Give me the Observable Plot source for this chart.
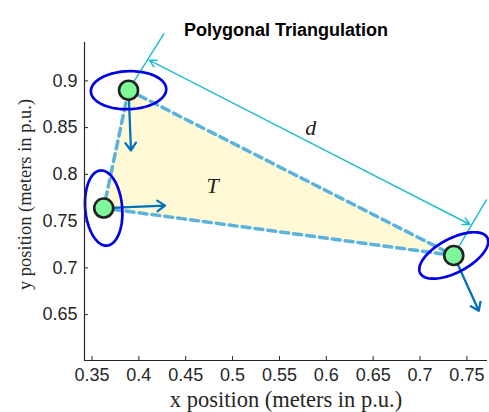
<!DOCTYPE html>
<html>
<head>
<meta charset="utf-8">
<script src="https://cdn.jsdelivr.net/npm/d3@7"></script>
<script src="https://cdn.jsdelivr.net/npm/@observablehq/plot@0.6"></script>
<style>
  html, body { margin: 0; padding: 0; background: #fff; }
</style>
</head>
<body>
<div id="chart"></div>
<script>
// Node positions (meters in p.u.)
const nodeX = [0.389, 0.3625, 0.736];
const nodeY = [0.890, 0.764, 0.7133];

// Motion vectors at each node
const flowU = [0.0026, 0.0654, 0.0267];
const flowV = [-0.0644, 0.0026, -0.0592];

// Uncertainty ellipses: semi-axes and orientation (degrees)
const ellA = [0.0402, 0.0403, 0.0405];
const ellB = [0.0203, 0.0197, 0.0181];
const ellAngle = [2, 95, 28];

// Dimension line for the distance d, with its two extension lines
const extX1 = [0.389, 0.736];
const extY1 = [0.890, 0.7133];
const extX2 = [0.4271, 0.7711];
const extY2 = [0.951, 0.7734];
const dimStart = [0.4111, 0.9221];
const dimEnd = [0.7533, 0.7464];

// Annotations
const labelText = ["d", "T"];
const labelX = [0.5835, 0.4787];
const labelY = [0.850, 0.788];

// Axis ticks
const xTicks = [0.35, 0.4, 0.45, 0.5, 0.55, 0.6, 0.65, 0.7, 0.75];
const xTickLabels = ["0.35", "0.4", "0.45", "0.5", "0.55", "0.6", "0.65", "0.7", "0.75"];
const yTicks = [0.65, 0.7, 0.75, 0.8, 0.85, 0.9];
const yTickLabels = ["0.65", "0.7", "0.75", "0.8", "0.85", "0.9"];

const xDomain = [0.342, 0.772];
const yDomain = [0.601, 0.941];

const W = 489, H = 412;
const mL = 84, mR = 2, mT = 42, mB = 52;
const frameW = W - mL - mR, frameH = H - mT - mB;

const nodes = nodeX.map((x, i) => ({x, y: nodeY[i], u: flowU[i], v: flowV[i]}));
const triangle = nodes.map(d => ({x: d.x, y: d.y}));
const triangleClosed = [...triangle, triangle[0]];

// Trace each ellipse outline
const ellipsePts = [];
nodes.forEach((n, k) => {
  const t = ellAngle[k] * Math.PI / 180;
  for (let j = 0; j <= 120; j++) {
    const s = (j / 120) * 2 * Math.PI;
    const ex = ellA[k] * Math.cos(s), ey = ellB[k] * Math.sin(s);
    ellipsePts.push({
      k,
      x: n.x + ex * Math.cos(t) - ey * Math.sin(t),
      y: n.y + ex * Math.sin(t) + ey * Math.cos(t)
    });
  }
});

const extLines = extX1.map((x1, i) => ({x1, y1: extY1[i], x2: extX2[i], y2: extY2[i]}));
const mid = [(dimStart[0] + dimEnd[0]) / 2, (dimStart[1] + dimEnd[1]) / 2];
const dimArrows = [
  {x1: mid[0], y1: mid[1], x2: dimStart[0], y2: dimStart[1]},
  {x1: mid[0], y1: mid[1], x2: dimEnd[0], y2: dimEnd[1]}
];
const labels = labelText.map((t, i) => ({t, x: labelX[i], y: labelY[i]}));

const axisColor = "#262626";
const cyan = "#22BCD0";
const flowBlue = "#0072BD";
const serif = "'Liberation Serif', 'Times New Roman', serif";

const chart = Plot.plot({
  width: W,
  height: H,
  marginLeft: mL,
  marginRight: mR,
  marginTop: mT,
  marginBottom: mB,
  x: {domain: xDomain},
  y: {domain: yDomain},
  style: {fontFamily: "'Liberation Sans', Arial, sans-serif", fontSize: "18px", color: axisColor, background: "#fff"},
  marks: [
    // triangle region T
    Plot.line(triangle, {x: "x", y: "y", curve: "linear-closed", fill: "#FFF9D6", stroke: "none"}),
    Plot.line(triangleClosed, {x: "x", y: "y", stroke: "#5AB2DE", strokeWidth: 3.5, strokeDasharray: "8,5"}),
    // extension lines and dimension arrow d
    Plot.link(extLines, {x1: "x1", y1: "y1", x2: "x2", y2: "y2", stroke: cyan, strokeWidth: 1.5}),
    Plot.arrow(dimArrows, {x1: "x1", y1: "y1", x2: "x2", y2: "y2", stroke: cyan, strokeWidth: 1.5, headLength: 8, headAngle: 55}),
    // motion vectors
    Plot.arrow(nodes, {x1: "x", y1: "y", x2: d => d.x + d.u, y2: d => d.y + d.v, stroke: flowBlue, strokeWidth: 2.3, headLength: 6, headAngle: 70}),
    // uncertainty ellipses
    Plot.line(ellipsePts, {x: "x", y: "y", z: "k", stroke: "#0000E8", strokeWidth: 2.7}),
    // nodes
    Plot.dot(nodes, {x: "x", y: "y", r: 9.5, fill: "#7DF89B", stroke: "#222", strokeWidth: 2.6}),
    // annotations
    Plot.text(labels, {x: "x", y: "y", text: "t", fontFamily: serif, fontStyle: "italic", fontSize: 22, fill: "#222"}),
    // axes
    Plot.ruleX([xDomain[0]], {stroke: axisColor, strokeWidth: 1.2}),
    Plot.ruleY([yDomain[0]], {stroke: axisColor, strokeWidth: 1.2}),
    Plot.ruleX(xTicks, {stroke: axisColor, strokeWidth: 1, insetTop: frameH - 4}),
    Plot.ruleY(yTicks, {stroke: axisColor, strokeWidth: 1, insetRight: frameW - 4}),
    Plot.axisX(xTicks, {tickSize: 0, tickPadding: 8, tickFormat: d => xTickLabels[xTicks.indexOf(d)], label: null, fontSize: 18}),
    Plot.axisY(yTicks, {tickSize: 0, tickPadding: 7, tickFormat: d => yTickLabels[yTicks.indexOf(d)], label: null, fontSize: 18}),
    // axis titles
    Plot.text(["x position (meters in p.u.)"], {frameAnchor: "bottom", dy: 46, text: d => d, fontFamily: serif, fontSize: 22.5, fill: axisColor}),
    Plot.text(["y position (meters in p.u.)"], {frameAnchor: "left", textAnchor: "middle", dx: -59, dy: -7, rotate: -90, text: d => d, fontFamily: serif, fontSize: 18.5, fill: axisColor}),
    // title
    Plot.text(["Polygonal Triangulation"], {frameAnchor: "top", dy: -19, text: d => d, fontWeight: "bold", fontSize: 18, fill: "#000"})
  ]
});

document.getElementById("chart").appendChild(chart);
</script>
</body>
</html>
